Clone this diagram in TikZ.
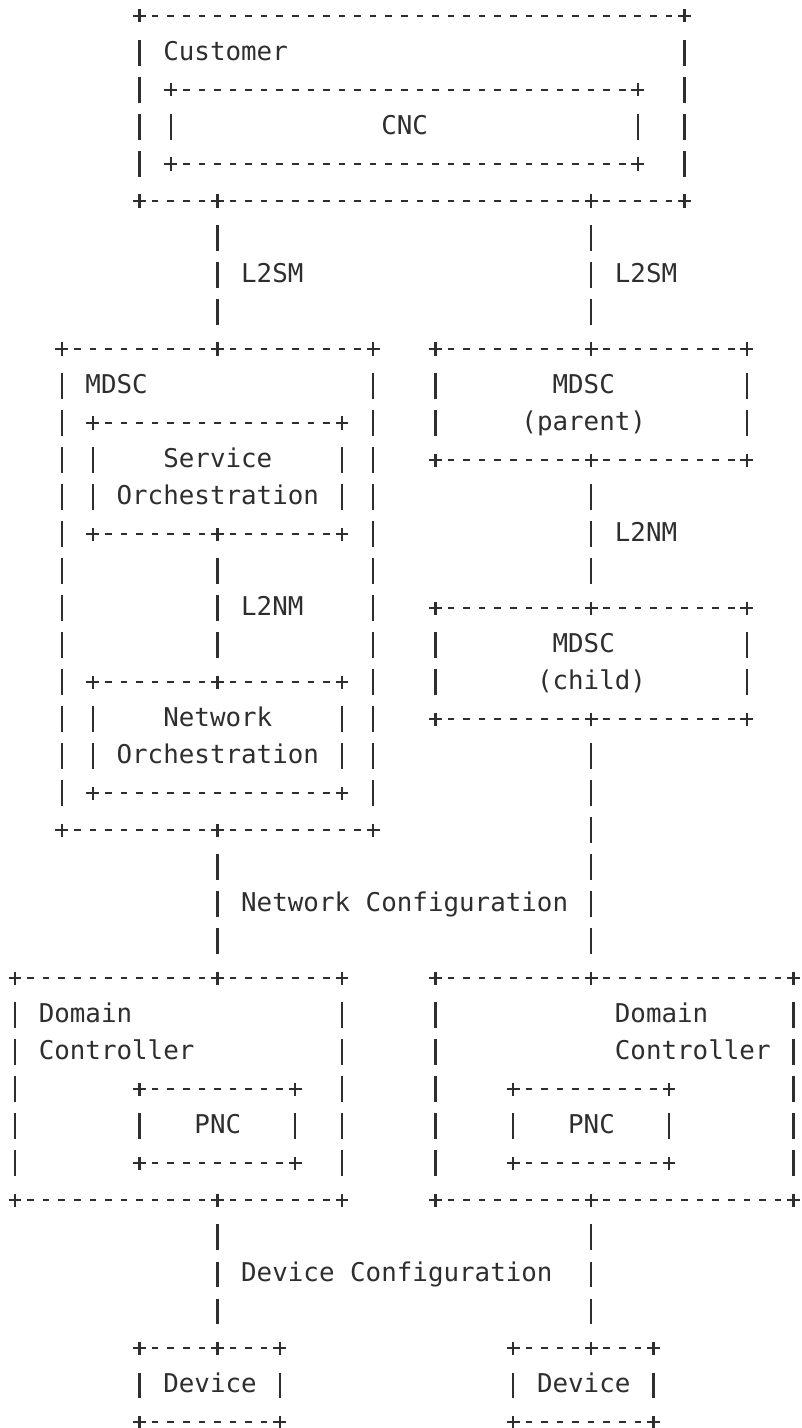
\documentclass[tikz,border=0pt]{standalone}
\usepackage{fontspec}
\setmonofont{DejaVu Sans Mono}
\usepackage{xcolor}
\usepackage{tikz}
\usetikzlibrary{calc}
\definecolor{ink}{rgb}{0.18, 0.18, 0.18}

% a "+" at a point, like the ascii corners
\newcommand{\plusmark}[1]{%
	\draw[cross] ($(#1)+(-0.41,0)$) -- ($(#1)+(0.41,0)$)
	             ($(#1)+(0,-0.176)$) -- ($(#1)+(0,0.176)$);}
% vertical link between two box edges
\newcommand{\wire}[2]{%
	\draw[vbar] ($(#1)+(0,0.66)$) -- ($(#2)+(0,-0.66)$);
	\plusmark{#1}\plusmark{#2}}

\begin{document}
\begin{tikzpicture}[x=7.785pt, y=-18.5pt]
	% ------------------------------------------------------------------
	% STYLE DEFINITIONS
	% ------------------------------------------------------------------
	\tikzset{
		box/.style 2 args = {rectangle, inner sep=0pt, outer sep=0pt,
		                     minimum width=#1*7.785pt, minimum height=#2*18.5pt},
		txt/.style   = {anchor=base west, inner sep=0pt, text=ink,
		                font=\ttfamily\fontsize{12.93pt}{18.5pt}\selectfont},
		hbar/.style  = {ink, line width=1.15pt, dash pattern=on 3.35pt off 4.435pt},
		vbar/.style  = {ink, line width=1.15pt, dash pattern=on 12.58pt off 5.92pt},
		cross/.style = {ink, line width=1.1pt},
	}
	\useasboundingbox (-0.963,-0.432) rectangle (50.48,38.16);
	
	% ------------------------------------------------------------------
	% BOXES
	% ------------------------------------------------------------------
	\node[box={35}{5}]  (cust)  at (25.5,2.5)  {};
	\node[box={30}{2}]  (cnc)   at (25,3)      {};
	\node[box={20}{13}] (mdscL) at (13,15.5)   {};
	\node[box={16}{3}]  (svc)   at (13,12.5)   {};
	\node[box={16}{3}]  (net)   at (13,19.5)   {};
	\node[box={20}{3}]  (mdscP) at (37,10.5)   {};
	\node[box={20}{3}]  (mdscC) at (37,17.5)   {};
	\node[box={21}{6}]  (dcL)   at (10.5,29)   {};
	\node[box={10}{2}]  (pncL)  at (13,30)     {};
	\node[box={23}{6}]  (dcR)   at (38.5,29)   {};
	\node[box={10}{2}]  (pncR)  at (37,30)     {};
	\node[box={9}{2}]   (devL)  at (12.5,37)   {};
	\node[box={9}{2}]   (devR)  at (36.5,37)   {};
	
	\foreach \b in {cust,cnc,mdscL,svc,net,mdscP,mdscC,dcL,pncL,dcR,pncR,devL,devR} {
		\draw[hbar] ($(\b.north west)+(0.785,0)$) -- ($(\b.north east)+(-0.785,0)$);
		\draw[hbar] ($(\b.south west)+(0.785,0)$) -- ($(\b.south east)+(-0.785,0)$);
		\draw[vbar] ($(\b.north west)+(0,0.66)$) -- ($(\b.south west)+(0,-0.66)$);
		\draw[vbar] ($(\b.north east)+(0,0.66)$) -- ($(\b.south east)+(0,-0.66)$);
		\foreach \c in {north west,north east,south west,south east}
			\plusmark{\b.\c};
	}
	
	% ------------------------------------------------------------------
	% LINKS
	% ------------------------------------------------------------------
	\wire{mdscL.north |- cust.south}{mdscL.north}
	\wire{mdscP.north |- cust.south}{mdscP.north}
	\wire{svc.south}{net.north}
	\wire{mdscP.south}{mdscC.north}
	\wire{mdscL.south}{dcL.north -| mdscL.south}
	\wire{mdscC.south}{dcR.north -| mdscC.south}
	\wire{pncL |- dcL.south}{pncL |- devL.north}
	\wire{pncR |- dcR.south}{pncR |- devR.north}
	
	% ------------------------------------------------------------------
	% TEXTS
	% ------------------------------------------------------------------
	\node[txt] (custT)  at (9.5,1.208)   {Customer};
	\node[txt] (cncT)   at (23.5,3.208)  {CNC};
	\node[txt] (smL)    at (14.5,7.208)  {L2SM};
	\node[txt] (smR)    at (38.5,7.208)  {L2SM};
	\node[txt] (mdscLT) at (4.5,10.208)  {MDSC};
	\node[txt] (svcT1)  at (9.5,12.208)  {Service};
	\node[txt] (svcT2)  at (6.5,13.208)  {Orchestration};
	\node[txt] (nmL)    at (14.5,16.208) {L2NM};
	\node[txt] (netT1)  at (9.5,19.208)  {Network};
	\node[txt] (netT2)  at (6.5,20.208)  {Orchestration};
	\node[txt] (parT1)  at (34.5,10.208) {MDSC};
	\node[txt] (parT2)  at (32.5,11.208) {(parent)};
	\node[txt] (nmR)    at (38.5,14.208) {L2NM};
	\node[txt] (chiT1)  at (34.5,17.208) {MDSC};
	\node[txt] (chiT2)  at (33.5,18.208) {(child)};
	\node[txt] (ncT)    at (14.5,24.208) {Network Configuration};
	\node[txt] (dcLT1)  at (1.5,27.208)  {Domain};
	\node[txt] (dcLT2)  at (1.5,28.208)  {Controller};
	\node[txt] (pncLT)  at (11.5,30.208) {PNC};
	\node[txt] (dcRT1)  at (38.5,27.208) {Domain};
	\node[txt] (dcRT2)  at (38.5,28.208) {Controller};
	\node[txt] (pncRT)  at (35.5,30.208) {PNC};
	\node[txt] (dvT)    at (14.5,34.208) {Device Configuration};
	\node[txt] (devLT)  at (9.5,37.208)  {Device};
	\node[txt] (devRT)  at (33.5,37.208) {Device};
	
\end{tikzpicture}
\end{document}
